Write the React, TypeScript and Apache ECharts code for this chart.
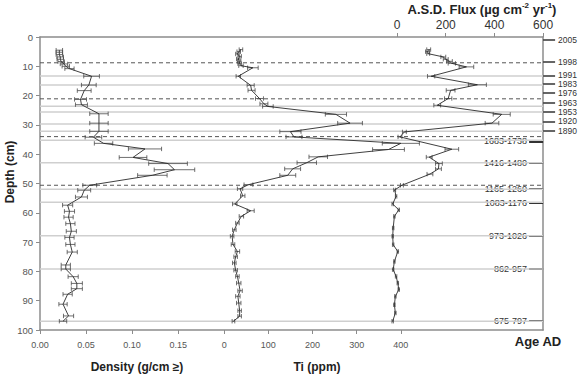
import React, { useEffect, useRef } from "react";
import * as echarts from "echarts";

// ---------- data ----------
const depthTicks = [0, 10, 20, 30, 40, 50, 60, 70, 80, 90, 100];
const densityTicks = [0, 0.05, 0.1, 0.15];
const tiTicks = [0, 100, 200, 300, 400];
const fluxTicks = [0, 200, 400, 600];

const densityDepth = [4.5, 5.2, 6.0, 6.8, 7.6, 8.4, 9.2, 10.0, 10.8, 13.4, 16.4, 18.3, 21.3, 23.1, 26.2, 29.4, 32.2, 34.2, 36.3, 38.2, 41.1, 43.2, 45.3, 47.2, 50.6, 52.3, 54.6, 57.4, 59.5, 61.5, 63.7, 66.3, 68.4, 70.8, 73.4, 77.8, 79.2, 81.8, 84.1, 85.9, 87.8, 91.2, 95.2, 97.0];
const densityValue = [0.021, 0.021, 0.021, 0.022, 0.022, 0.023, 0.026, 0.028, 0.032, 0.056, 0.053, 0.048, 0.044, 0.045, 0.064, 0.064, 0.064, 0.058, 0.069, 0.114, 0.101, 0.139, 0.146, 0.122, 0.054, 0.048, 0.045, 0.030, 0.032, 0.031, 0.033, 0.034, 0.032, 0.033, 0.035, 0.028, 0.028, 0.036, 0.040, 0.040, 0.030, 0.025, 0.031, 0.025];
const densityErr = [0.0035, 0.0035, 0.0035, 0.0035, 0.0035, 0.0035, 0.004, 0.004, 0.005, 0.0085, 0.008, 0.0075, 0.0065, 0.0065, 0.01, 0.01, 0.01, 0.009, 0.01, 0.018, 0.015, 0.021, 0.022, 0.016, 0.0075, 0.007, 0.0065, 0.0055, 0.0055, 0.005, 0.005, 0.0055, 0.005, 0.005, 0.0055, 0.005, 0.005, 0.0055, 0.006, 0.006, 0.005, 0.0045, 0.0055, 0.004];

const tiDepth = [4.3, 5.0, 5.8, 6.6, 7.5, 8.3, 9.1, 9.8, 10.5, 13.4, 16.5, 18.2, 21.0, 22.8, 23.7, 26.4, 29.4, 32.3, 34.1, 36.3, 38.4, 40.9, 42.9, 45.0, 47.2, 50.4, 51.8, 54.2, 57.0, 59.3, 61.2, 63.5, 65.8, 68.0, 70.8, 73.2, 75.0, 77.1, 79.6, 81.7, 84.0, 86.6, 88.5, 90.8, 93.4, 95.3, 97.0];
const tiValue = [38, 33, 30, 35, 32, 34, 35, 38, 65, 32, 60, 62, 80, 90, 99, 253, 285, 150, 158, 400, 372, 213, 187, 155, 144, 55, 36, 42, 24, 60, 39, 30, 23, 18, 20, 30, 26, 23, 26, 30, 33, 36, 31, 33, 35, 35, 21];
const tiErr = [4, 4, 4, 4, 4, 4, 4, 5, 12, 5, 8, 8, 9, 9, 12, 24, 28, 24, 18, 42, 36, 21, 22, 18, 18, 10, 6, 5, 5, 8, 5, 4, 4, 4, 4, 5, 4, 4, 4, 4, 5, 5, 5, 5, 4, 4, 3];

const fluxDepth = [4.3, 5.0, 5.7, 6.8, 7.6, 8.3, 9.0, 10.2, 13.4, 16.3, 18.2, 21.0, 23.3, 26.4, 29.4, 32.4, 34.1, 38.3, 41.0, 43.2, 45.0, 46.8, 50.6, 52.2, 54.4, 57.0, 59.0, 61.2, 65.2, 68.0, 70.9, 73.2, 76.6, 79.4, 81.7, 84.0, 86.2, 88.5, 91.4, 94.2, 97.0];
const fluxValue = [130, 125, 128, 190, 200, 215, 225, 285, 140, 330, 220, 210, 165, 430, 390, 30, 12, 225, 132, 172, 170, 135, 20, -10, -4, -18, 7, -11, -16, -18, -16, 3, -11, -16, -4, 3, 7, -7, -11, -7, -18];
const fluxErr = [8, 8, 6, 10, 10, 12, 15, 30, 15, 37, 18, 15, 14, 35, 28, 8, 8, 28, 12, 14, 12, 12, 6, 4, 3, 3, 3, 3, 3, 3, 3, 3, 3, 3, 3, 3, 3, 3, 3, 3, 3];

const solidLineDepths = [13.3, 16.4, 23.6, 25.6, 29.7, 32.2, 35.2, 42.9, 52.0, 56.4, 67.8, 79.2, 97.0];
const dashedLineDepths = [8.8, 21.1, 34.0, 50.6];

const recentAgeLabels = ["2005", "1998", "1991", "1983", "1976", "1963", "1953", "1920", "1890"];
const recentAgeDepths = [0.9, 8.6, 13.1, 16.1, 19.1, 22.6, 25.6, 28.8, 32.0];
const oldAgeLabels = ["1683-1738", "1416-1480", "1165-1260", "1083-1176", "973-1026", "862-957", "675-797"];
const oldAgeDepths = [35.6, 42.9, 51.8, 56.6, 67.8, 79.1, 96.9];

// ---------- layout ----------
const FONT = "'Liberation Sans', Arial, sans-serif";
const GL = 40, GR = 544, GT = 37, GB = 330, W = 580, H = 378;
const DENS_PX = 922.7; // px per g/cm3
const TI_ZERO_X = 224.5, TI_PX = 0.4425;
const FLUX_ZERO_X = 397.7, FLUX_PX = 0.2438;
const AXIS_GRAY = "#8c8c8c";

const lookup = (depths: number[], labels: string[]) => (v: number) => {
  const i = depths.findIndex((d) => Math.abs(d - v) < 1e-6);
  return i >= 0 ? labels[i] : "";
};

const errRender = (params: any, api: any) => {
  const v = api.value(0), d = api.value(1), e = api.value(2);
  const p1 = api.coord([v - e, d]);
  const p2 = api.coord([v + e, d]);
  const h = 2.2;
  const st = { stroke: "#4a4a4a", lineWidth: 0.8 };
  return {
    type: "group",
    children: [
      { type: "line", shape: { x1: p1[0], y1: p1[1], x2: p2[0], y2: p2[1] }, style: st },
      { type: "line", shape: { x1: p1[0], y1: p1[1] - h, x2: p1[0], y2: p1[1] + h }, style: st },
      { type: "line", shape: { x1: p2[0], y1: p2[1] - h, x2: p2[0], y2: p2[1] + h }, style: st },
    ],
  };
};

export default function App() {
  const ref = useRef<HTMLDivElement>(null);
  useEffect(() => {
    if (!ref.current) return;
    const chart = echarts.init(ref.current, null, { renderer: "svg" });
    const lineStyle = { color: "#2a2a2a", width: 0.9 };
    const refLines = [
      ...solidLineDepths.map((d) => [0, d, 0]),
      ...dashedLineDepths.map((d) => [0, d, 1]),
    ];
    chart.setOption({
      animation: false,
      backgroundColor: "#ffffff",
      grid: { left: GL, top: GT, width: GR - GL, height: GB - GT, containLabel: false },
      xAxis: [
        {
          type: "value",
          position: "bottom",
          min: 0,
          max: (GR - GL) / DENS_PX,
          axisLine: { show: true, onZero: false, lineStyle: { color: AXIS_GRAY, width: 1.5 } },
          axisTick: { show: true, customValues: densityTicks, length: 4, lineStyle: { color: AXIS_GRAY } },
          axisLabel: { customValues: densityTicks, formatter: (v: number) => v.toFixed(2), fontSize: 9, color: "#555", margin: 10, fontFamily: FONT, hideOverlap: false },
          splitLine: { show: false },
        },
        {
          type: "value",
          position: "bottom",
          min: -(TI_ZERO_X - GL) / TI_PX,
          max: (GR - TI_ZERO_X) / TI_PX,
          axisLine: { show: false, onZero: false },
          axisTick: { show: true, customValues: tiTicks, length: 4, lineStyle: { color: AXIS_GRAY } },
          axisLabel: { customValues: tiTicks, formatter: (v: number) => String(v), fontSize: 9, color: "#555", margin: 10, fontFamily: FONT, hideOverlap: false },
          splitLine: { show: false },
        },
        {
          type: "value",
          position: "top",
          min: -(FLUX_ZERO_X - GL) / FLUX_PX,
          max: 600,
          axisLine: { show: true, onZero: false, lineStyle: { color: AXIS_GRAY, width: 1.5 } },
          axisTick: { show: true, customValues: fluxTicks, length: 4, lineStyle: { color: AXIS_GRAY } },
          axisLabel: { customValues: fluxTicks, formatter: (v: number) => String(v), fontSize: 12, color: "#333", margin: 6, fontFamily: FONT, hideOverlap: false },
          splitLine: { show: false },
        },
      ],
      yAxis: [
        {
          type: "value",
          inverse: true,
          min: 0,
          max: 100,
          interval: 10,
          position: "left",
          axisLine: { show: true, onZero: false, lineStyle: { color: AXIS_GRAY, width: 1.5 } },
          axisTick: { show: true, length: 4, lineStyle: { color: AXIS_GRAY } },
          axisLabel: { fontSize: 9.5, color: "#555", margin: 7, fontFamily: FONT, customValues: depthTicks, hideOverlap: false },
          splitLine: { show: false },
        },
        {
          type: "value",
          inverse: true,
          min: 0,
          max: 100,
          position: "right",
          offset: 0,
          axisLine: { show: true, onZero: false, lineStyle: { color: AXIS_GRAY, width: 1.5 } },
          axisTick: { show: true, customValues: recentAgeDepths, length: 12, lineStyle: { color: "#333", width: 1.5 } },
          axisLabel: { customValues: recentAgeDepths, formatter: lookup(recentAgeDepths, recentAgeLabels), fontSize: 8.5, color: "#333", margin: 15, fontFamily: FONT, hideOverlap: false, showMinLabel: true, showMaxLabel: true },
          splitLine: { show: false },
        },
        {
          type: "value",
          inverse: true,
          min: 0,
          max: 100,
          position: "right",
          offset: 0,
          axisLine: { show: false, onZero: false },
          axisTick: { show: true, inside: true, customValues: oldAgeDepths, length: 14, lineStyle: { color: "#333", width: 2 } },
          axisLabel: { inside: true, customValues: oldAgeDepths, formatter: lookup(oldAgeDepths, oldAgeLabels), fontSize: 9, color: "#333", margin: 16, fontFamily: FONT, hideOverlap: false, showMinLabel: true, showMaxLabel: true },
          splitLine: { show: false },
        },
      ],
      series: [
        {
          type: "custom",
          xAxisIndex: 0,
          yAxisIndex: 0,
          z: 1,
          silent: true,
          encode: { x: 0, y: 1 },
          data: refLines,
          renderItem: (params: any, api: any) => {
            const cs = params.coordSys;
            const y = api.coord([0, api.value(1)])[1];
            const dashed = api.value(2) === 1;
            return {
              type: "line",
              shape: { x1: cs.x, y1: y, x2: cs.x + cs.width, y2: y },
              style: dashed
                ? { stroke: "#555", lineWidth: 1, lineDash: [4, 3] }
                : { stroke: "#cfcfcf", lineWidth: 1.5 },
            };
          },
        },
        { type: "line", xAxisIndex: 0, yAxisIndex: 0, z: 3, symbol: "none", lineStyle, data: densityDepth.map((d, i) => [densityValue[i], d]) },
        { type: "custom", xAxisIndex: 0, yAxisIndex: 0, z: 3, encode: { x: 0, y: 1 }, renderItem: errRender, data: densityDepth.map((d, i) => [densityValue[i], d, densityErr[i]]) },
        { type: "line", xAxisIndex: 1, yAxisIndex: 0, z: 3, symbol: "none", lineStyle, data: tiDepth.map((d, i) => [tiValue[i], d]) },
        { type: "custom", xAxisIndex: 1, yAxisIndex: 0, z: 3, encode: { x: 0, y: 1 }, renderItem: errRender, data: tiDepth.map((d, i) => [tiValue[i], d, tiErr[i]]) },
        { type: "line", xAxisIndex: 2, yAxisIndex: 0, z: 3, symbol: "none", lineStyle, data: fluxDepth.map((d, i) => [fluxValue[i], d]) },
        { type: "custom", xAxisIndex: 2, yAxisIndex: 0, z: 3, encode: { x: 0, y: 1 }, renderItem: errRender, data: fluxDepth.map((d, i) => [fluxValue[i], d, fluxErr[i]]) },
      ],
      graphic: [
        {
          type: "text",
          x: 10,
          y: 172,
          rotation: Math.PI / 2,
          style: { text: "Depth (cm)", font: `bold 12px ${FONT}`, fill: "#222", align: "center", verticalAlign: "middle" },
        },
        {
          type: "text",
          x: 137,
          y: 367,
          style: { text: "Density (g/cm \u2265)", font: `bold 12px ${FONT}`, fill: "#222", align: "center", verticalAlign: "middle" },
        },
        {
          type: "text",
          x: 317,
          y: 367,
          style: { text: "Ti (ppm)", font: `bold 12px ${FONT}`, fill: "#222", align: "center", verticalAlign: "middle" },
        },
        {
          type: "text",
          x: 538,
          y: 341,
          style: { text: "Age AD", font: `bold 13px ${FONT}`, fill: "#222", align: "center", verticalAlign: "middle" },
        },
        {
          type: "text",
          x: 482,
          y: 9,
          style: {
            text: "{b|A.S.D. Flux (\u00b5g cm}{s|-2}{b| yr}{s|-1}{b|)}",
            align: "center",
            verticalAlign: "middle",
            rich: {
              b: { fontSize: 13, fontWeight: "bold", fontFamily: FONT, fill: "#222", color: "#222", lineHeight: 15 },
              s: { fontSize: 8, fontWeight: "bold", fontFamily: FONT, fill: "#222", color: "#222", verticalAlign: "top", lineHeight: 15 },
            },
          },
        },
      ],
    });
    return () => chart.dispose();
  }, []);
  return (
    <div
      ref={ref}
      style={{ position: "absolute", left: 0, top: 0, width: W, height: H, background: "#fff" }}
    />
  );
}
